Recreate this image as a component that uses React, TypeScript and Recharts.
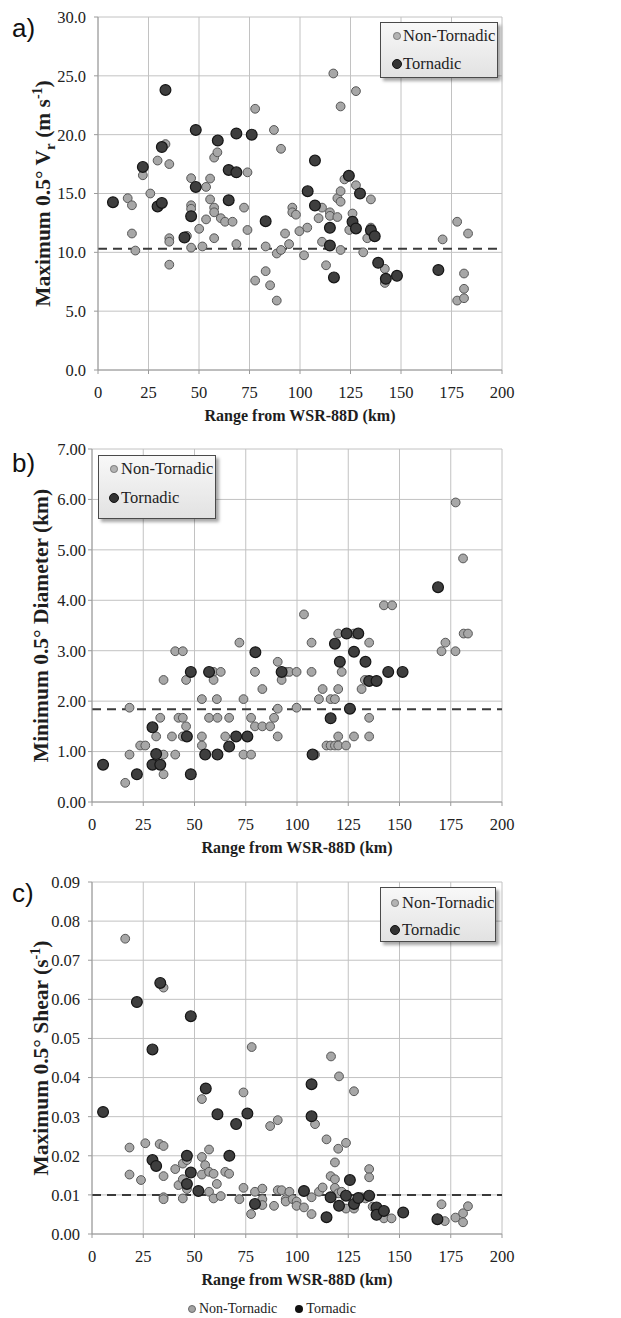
import React from "react";
import {
  ScatterChart,
  Scatter,
  XAxis,
  YAxis,
  CartesianGrid,
  ReferenceLine,
} from "recharts";

// range (km), value
const vrNonTornadic = [
  [14.7, 14.6], [16.8, 14.0], [16.8, 11.6], [18.5, 10.15], [22.2, 16.55], [25.9, 15.0],
  [29.5, 17.8], [33.4, 19.2], [35.3, 17.5], [35.3, 11.2], [35.3, 10.9], [35.3, 8.95],
  [44, 11.4], [46.1, 16.3], [46.1, 14.0], [46.1, 13.7], [46.1, 10.4], [50.1, 12.0],
  [51.7, 10.5], [53.5, 12.8], [53.5, 15.56], [55.5, 16.27], [55.5, 14.5], [57.5, 18.05],
  [59.1, 18.5], [57.5, 13.8], [57.5, 13.4], [57.5, 11.2], [60.8, 12.9], [62.9, 12.6],
  [66.6, 12.6], [68.5, 10.7], [72.3, 13.8], [74, 16.8], [74, 11.9], [77.8, 7.6],
  [77.8, 22.2], [83, 10.5], [83, 8.4], [85.2, 7.2], [87.1, 20.4], [88.5, 9.9],
  [88.5, 5.9], [90.6, 10.2], [90.6, 18.8], [92.6, 11.6], [94.6, 10.7], [96.2, 13.8],
  [96.2, 13.4], [98, 13.2], [99.7, 11.8], [102, 9.75], [103.6, 12.1], [109.2, 12.9],
  [110.9, 13.8], [110.9, 10.9], [112.9, 8.9], [114.8, 13.4], [114.8, 13.1], [116.5, 25.2],
  [118.5, 13.0], [118.5, 14.6], [120.1, 14.3], [120.1, 15.2], [120.1, 10.2], [120.1, 22.4],
  [122, 16.2], [124.4, 11.9], [126, 13.3], [127.7, 15.7], [127.7, 23.7], [131.3, 10.0],
  [133.3, 11.2], [135.1, 14.5], [135.1, 12.1], [142, 8.6], [142, 7.4], [170.6, 11.1],
  [177.8, 12.6], [177.8, 5.9], [181.2, 8.2], [181.2, 6.9], [181.2, 6.1], [183.2, 11.6],
];
const vrTornadic = [
  [7.4, 14.26], [22.2, 17.26], [29.5, 13.9], [31.6, 14.2], [31.6, 18.95], [33.4, 23.8],
  [42.8, 11.26], [46.1, 13.07], [48.4, 15.56], [48.4, 20.4], [59.3, 19.5], [64.7, 14.43],
  [64.7, 17.0], [68.5, 16.8], [68.5, 20.1], [76.1, 20.0], [83.0, 12.65], [103.8, 15.2],
  [107.4, 13.98], [107.4, 17.8], [114.8, 12.08], [114.8, 10.58], [116.8, 7.87], [124.2, 16.5],
  [126, 12.6], [127.7, 12.03], [129.7, 15.0], [135.1, 11.88], [137, 11.37], [138.7, 9.11],
  [142.5, 7.75], [148, 8.0], [168.5, 8.5],
];

const diamNonTornadic = [
  [16.2, 0.38], [18.3, 0.94], [18.3, 1.87], [23.5, 1.12], [26, 1.12], [31.3, 1.3],
  [33.3, 1.67], [34.9, 2.42], [34.9, 0.94], [34.9, 0.55], [39, 1.3], [40.6, 0.94],
  [40.6, 2.99], [42.2, 1.67], [44.3, 2.99], [44.3, 1.67], [44.3, 1.3], [45.9, 2.42],
  [45.9, 1.5], [53.6, 2.04], [53.6, 1.3], [53.6, 1.12], [57.1, 1.67], [59.3, 2.58],
  [59.3, 2.42], [60.9, 2.04], [61.2, 1.67], [62.8, 2.58], [65, 1.3], [66.9, 1.67],
  [71.9, 3.16], [73.9, 2.04], [73.9, 0.94], [77.6, 1.67], [77.6, 0.94], [79.5, 1.5],
  [79.5, 2.58], [83.1, 2.24], [83.1, 1.5], [86.9, 1.5], [88.8, 1.67], [90.6, 1.3],
  [90.6, 1.85], [90.6, 2.78], [92.5, 2.42], [94.5, 2.58], [96.3, 2.58], [99.8, 2.58],
  [99.8, 1.87], [103.4, 3.72], [107.1, 2.58], [107.1, 3.16], [108.8, 0.94], [110.7, 2.04],
  [112.5, 2.24], [114.4, 1.12], [116.4, 1.12], [118.5, 1.12], [116.4, 2.04], [118.5, 2.04],
  [120.1, 2.24], [120.1, 1.3], [120.1, 1.12], [120.1, 3.34], [121.8, 2.58], [123.9, 1.12],
  [127.8, 3.34], [127.8, 1.3], [131.5, 2.24], [133.1, 2.42], [135.2, 3.16], [135.2, 1.67],
  [135.2, 1.3], [142.4, 3.9], [146.4, 3.9], [170.5, 2.99], [172.4, 3.16], [177.3, 2.99],
  [177.4, 5.94], [181, 4.83], [181.3, 3.34], [183.4, 3.34],
];
const diamTornadic = [
  [5.4, 0.74], [21.9, 0.55], [29.5, 1.48], [29.5, 0.74], [31.3, 0.95], [33.3, 0.74],
  [46.3, 1.3], [48.2, 0.55], [48.2, 2.58], [55.2, 0.94], [57.1, 2.58], [61.2, 0.94],
  [66.9, 1.1], [70.3, 1.3], [75.8, 1.3], [79.7, 2.97], [92.5, 2.58], [107.6, 0.94],
  [116.4, 1.66], [118.5, 3.14], [120.9, 2.78], [124.2, 3.34], [125.8, 1.85], [127.8, 2.98],
  [129.9, 3.34], [133.4, 2.78], [135.2, 2.4], [138.8, 2.4], [144.5, 2.58], [151.5, 2.58],
  [168.8, 4.26],
];

const shearNonTornadic = [
  [16.2, 0.0755], [34.9, 0.063], [77.9, 0.0478], [116.6, 0.0454], [120.5, 0.0403],
  [18.3, 0.0221], [18.3, 0.0152], [23.9, 0.0138], [26, 0.0232], [33, 0.023], [34.9, 0.0225],
  [34.9, 0.0148], [34.9, 0.0094], [34.9, 0.0089], [40.6, 0.0166], [42.2, 0.0125], [44.3, 0.018],
  [44.3, 0.014], [44.3, 0.0091], [46.3, 0.0189], [46.3, 0.0115], [53.6, 0.0345], [53.6, 0.0197],
  [53.6, 0.0152], [55.2, 0.0176], [57.1, 0.0216], [57.1, 0.0159], [57.1, 0.0108], [59.3, 0.0154],
  [59.3, 0.0091], [60.9, 0.0128], [62.8, 0.0097], [65, 0.0159], [66.9, 0.0154], [71.9, 0.0089],
  [73.9, 0.0362], [73.9, 0.0118], [77.6, 0.0051], [79.5, 0.0108], [83.1, 0.0116], [83.1, 0.0089],
  [83.1, 0.0074], [86.9, 0.0276], [88.8, 0.0072], [90.6, 0.0291], [90.6, 0.0112], [92.5, 0.0112],
  [94.5, 0.0089], [94.5, 0.0083], [96.3, 0.0108], [97.9, 0.0089], [99.8, 0.0083], [99.8, 0.0072],
  [103.4, 0.0068], [108.8, 0.0281], [107.1, 0.0094], [107.1, 0.0051], [110.7, 0.0108], [112.5, 0.0119],
  [114.4, 0.0242], [116.4, 0.0148], [118.5, 0.0183], [118.5, 0.014], [118.5, 0.0118], [120.1, 0.0218],
  [120.1, 0.0104], [121.8, 0.0108], [123.9, 0.0233], [123.9, 0.0065], [127.8, 0.0365], [127.8, 0.0065],
  [131.5, 0.0094], [133.4, 0.0091], [135.2, 0.0166], [135.2, 0.0145], [136.9, 0.007], [140.4, 0.0059],
  [142.4, 0.004], [146.1, 0.004], [170.5, 0.0076], [172.1, 0.0033], [177.3, 0.0042], [181, 0.0053],
  [181, 0.003], [183.4, 0.0071],
];
const shearTornadic = [
  [5.4, 0.0312], [21.9, 0.0593], [29.5, 0.0472], [33.3, 0.0642], [48.2, 0.0557], [29.5, 0.0189],
  [31.3, 0.0174], [46.3, 0.02], [46.3, 0.0128], [48.2, 0.0157], [51.9, 0.011], [55.5, 0.0372],
  [61.2, 0.0306], [67, 0.02], [70.3, 0.0281], [75.8, 0.0308], [79.5, 0.0077], [103.4, 0.011],
  [107.1, 0.0383], [107.1, 0.0301], [114.4, 0.0043], [116.4, 0.0094], [120.5, 0.0072], [123.9, 0.0098],
  [125.8, 0.0138], [127.8, 0.0077], [129.9, 0.0092], [135.2, 0.0098], [138.8, 0.0068], [138.8, 0.0049],
  [142.4, 0.0059], [151.8, 0.0055], [168.5, 0.0038],
];

const xTicks = [0, 25, 50, 75, 100, 125, 150, 175, 200];
const vrTicks = [0, 5, 10, 15, 20, 25, 30];
const diamTicks = [0, 1, 2, 3, 4, 5, 6, 7];
const shearTicks = [0, 0.01, 0.02, 0.03, 0.04, 0.05, 0.06, 0.07, 0.08, 0.09];
const vrThreshold = 10.3;
const diamThreshold = 1.84;
const shearThreshold = 0.01;

const SERIF = "'Liberation Serif', 'DejaVu Serif', serif";
const NON_FILL = "#a7a7a7";
const NON_STROKE = "#575757";
const TOR_FILL = "#3e3e3e";
const TOR_STROKE = "#151515";

const toPts = (arr: number[][]) => arr.map(([x, y]) => ({ x, y }));

const NonDot = (p: any) => (
  <circle cx={p.cx} cy={p.cy} r={4.4} fill={NON_FILL} stroke={NON_STROKE} strokeWidth={1} />
);
const TorDot = (p: any) => (
  <circle cx={p.cx} cy={p.cy} r={5.4} fill={TOR_FILL} stroke={TOR_STROKE} strokeWidth={1.2} />
);

function LegendBox({ left, top, width, height, rows, markerX, textX }: any) {
  return (
    <div
      style={{
        position: "absolute",
        left,
        top,
        width,
        height,
        boxSizing: "border-box",
        border: "1px solid #4a4a4a",
        background: "linear-gradient(#f8f8f8, #e2e2e2)",
        boxShadow: "3px 3px 3px rgba(0,0,0,0.35)",
        fontFamily: SERIF,
        fontSize: 16.5,
        color: "#1e1e1e",
      }}
    >
      {["Non-Tornadic", "Tornadic"].map((name, i) => (
        <div key={name} style={{ position: "absolute", left: 0, top: rows[i], width: "100%" }}>
          <span
            style={{
              position: "absolute",
              left: markerX - (i ? 5 : 3.8),
              top: -(i ? 5 : 3.8),
              width: i ? 10 : 7.6,
              height: i ? 10 : 7.6,
              boxSizing: "border-box",
              borderRadius: "50%",
              background: i ? "#333" : "#b3b3b3",
              border: i ? "1px solid #111" : "1px solid #7a7a7a",
            }}
          />
          <span style={{ position: "absolute", left: textX, top: -10, lineHeight: "20px", whiteSpace: "nowrap" }}>
            {name}
          </span>
        </div>
      ))}
    </div>
  );
}

function Panel({
  top, height, marginTop, marginLeft, tickGap, nonData, torData, yTicks, yFmt,
  threshold, yTitle, titleX, letter, letterTop, legend,
}: any) {
  const tickStyle = { fontSize: 16.5, fill: "#222", fontFamily: SERIF };
  return (
    <div style={{ position: "absolute", left: 0, top, width: 621, height }}>
      <ScatterChart
        width={621}
        height={height}
        margin={{ top: marginTop, right: 119, left: marginLeft, bottom: 0 }}
      >
        <CartesianGrid stroke="#c2c2c2" strokeWidth={1} />
        <XAxis
          type="number"
          dataKey="x"
          domain={[0, 200]}
          ticks={xTicks}
          interval={0}
          height={60}
          tick={tickStyle}
          tickSize={4}
          tickMargin={12}
          stroke="#9a9a9a"
          label={(props: any) => {
            const vb = props.viewBox;
            return (
              <text
                x={vb.x + vb.width / 2}
                y={vb.y + 51}
                textAnchor="middle"
                fontFamily={SERIF}
                fontWeight="bold"
                fontSize={16}
                fill="#1e1e1e"
              >
                Range from WSR-88D (km)
              </text>
            );
          }}
        />
        <YAxis
          type="number"
          dataKey="y"
          domain={[yTicks[0], yTicks[yTicks.length - 1]]}
          ticks={yTicks}
          interval={0}
          width={60}
          tick={tickStyle}
          tickSize={4}
          tickMargin={tickGap}
          tickFormatter={yFmt}
          stroke="#9a9a9a"
          label={(props: any) => {
            const vb = props.viewBox;
            const cy = vb.y + vb.height / 2;
            return (
              <text
                x={titleX}
                y={cy}
                transform={`rotate(-90 ${titleX} ${cy})`}
                textAnchor="middle"
                fontFamily={SERIF}
                fontWeight="bold"
                fontSize={21.5}
                fill="#1e1e1e"
              >
                {yTitle}
              </text>
            );
          }}
        />
        <ReferenceLine y={threshold} stroke="#3a3a3a" strokeWidth={2} strokeDasharray="9 6" />
        <Scatter data={toPts(nonData)} shape={NonDot} isAnimationActive={false} />
        <Scatter data={toPts(torData)} shape={TorDot} isAnimationActive={false} />
      </ScatterChart>
      <div
        style={{
          position: "absolute",
          left: 12,
          top: letterTop,
          fontFamily: "'Liberation Sans', Arial, sans-serif",
          fontSize: 26,
          lineHeight: 1,
          color: "#111",
        }}
      >
        {letter}
      </div>
      <LegendBox {...legend} />
    </div>
  );
}

export default function App() {
  return (
    <div style={{ position: "absolute", left: 0, top: 0, width: 621, height: 1318, background: "#fff" }}>
      <Panel
        top={0}
        height={430}
        marginTop={17}
        marginLeft={38}
        tickGap={8}
        nonData={vrNonTornadic}
        torData={vrTornadic}
        yTicks={vrTicks}
        yFmt={(v: number) => v.toFixed(1)}
        threshold={vrThreshold}
        titleX={50}
        yTitle={
          <>
            <tspan>Maximum 0.5° V</tspan>
            <tspan fontSize={15} dy={5}>r</tspan>
            <tspan dy={-5}> (m s</tspan>
            <tspan fontSize={14} dy={-8}>-1</tspan>
            <tspan dy={8}>)</tspan>
          </>
        }
        letter="a)"
        letterTop={15}
        legend={{ left: 380, top: 22, width: 118, height: 56, rows: [13, 41], markerX: 16, textX: 22 }}
      />
      <Panel
        top={430}
        height={432}
        marginTop={19}
        marginLeft={32}
        tickGap={2}
        nonData={diamNonTornadic}
        torData={diamTornadic}
        yTicks={diamTicks}
        yFmt={(v: number) => v.toFixed(2)}
        threshold={diamThreshold}
        titleX={48}
        yTitle={<tspan>Minimum 0.5° Diameter (km)</tspan>}
        letter="b)"
        letterTop={20}
        legend={{ left: 98, top: 25, width: 118, height: 64, rows: [13, 42], markerX: 15, textX: 22 }}
      />
      <Panel
        top={862}
        height={432}
        marginTop={20}
        marginLeft={32}
        tickGap={8}
        nonData={shearNonTornadic}
        torData={shearTornadic}
        yTicks={shearTicks}
        yFmt={(v: number) => v.toFixed(2)}
        threshold={shearThreshold}
        titleX={48}
        yTitle={
          <>
            <tspan>Maximum 0.5° Shear (s</tspan>
            <tspan fontSize={14} dy={-8}>-1</tspan>
            <tspan dy={8}>)</tspan>
          </>
        }
        letter="c)"
        letterTop={18}
        legend={{ left: 380, top: 25, width: 116, height: 55, rows: [15, 42], markerX: 14, textX: 21 }}
      />
      <div
        style={{
          position: "absolute",
          left: 188,
          top: 1300,
          height: 18,
          display: "flex",
          alignItems: "center",
          fontFamily: SERIF,
          fontSize: 14,
          color: "#222",
        }}
      >
        <span
          style={{
            width: 8,
            height: 8,
            boxSizing: "border-box",
            borderRadius: "50%",
            background: "#a3a3a3",
            border: "1px solid #6a6a6a",
            marginRight: 3,
          }}
        />
        <span>Non-Tornadic</span>
        <span
          style={{
            width: 8,
            height: 8,
            borderRadius: "50%",
            background: "#111",
            marginLeft: 18,
            marginRight: 3,
          }}
        />
        <span>Tornadic</span>
      </div>
    </div>
  );
}
